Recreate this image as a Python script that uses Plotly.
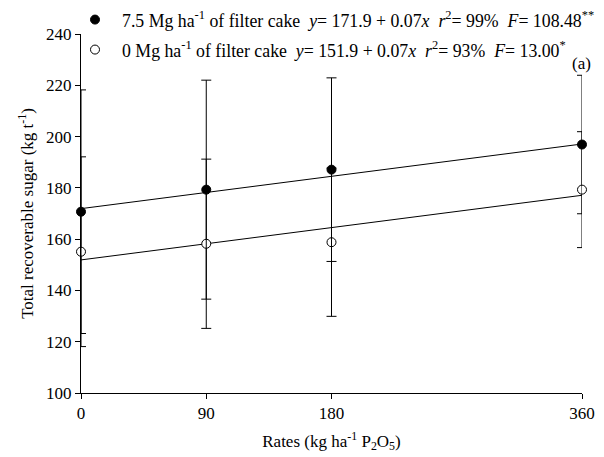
import plotly.graph_objects as go

# Data
rates = [0, 90, 180, 360]
trs_75 = [170.7, 179.3, 187.1, 196.9]
err_75 = [47.5, 42.7, 35.8, 27.0]
trs_0 = [155.1, 158.2, 158.8, 179.3]
err_0 = [37.0, 33.0, 28.9, 22.6]

# Regression coefficients (intercept, slope)
fit_75 = (171.9, 0.07)
fit_0 = (151.9, 0.07)
fit_x = [0, 360]

x_ticks = [0, 90, 180, 360]
y_ticks = [100, 120, 140, 160, 180, 200, 220, 240]

FONT = "Liberation Serif"
FS = 17
LFS = 17.8

fig = go.Figure()

for (a, b) in (fit_75, fit_0):
    fig.add_trace(go.Scatter(
        x=fit_x, y=[a + b * v for v in fit_x], mode="lines",
        line=dict(color="black", width=1), showlegend=False, hoverinfo="skip",
        cliponaxis=False))

fig.add_trace(go.Scatter(
    x=rates, y=trs_0, mode="markers",
    name="0 Mg ha<sup>-1</sup> of filter cake  <i>y</i>= 151.9 + 0.07<i>x</i>  <i>r</i><sup>2</sup>= 93%  <i>F</i>= 13.00<sup>*</sup>",
    marker=dict(symbol="circle", size=9, color="white", line=dict(color="black", width=1)),
    error_y=dict(type="data", array=err_0, visible=True, color="black", thickness=1, width=5),
    cliponaxis=False, legend="legend2"))

fig.add_trace(go.Scatter(
    x=rates, y=trs_75, mode="markers",
    name="7.5 Mg ha<sup>-1</sup> of filter cake  <i>y</i>= 171.9 + 0.07<i>x</i>  <i>r</i><sup>2</sup>= 99%  <i>F</i>= 108.48<sup>**</sup>",
    marker=dict(symbol="circle", size=9, color="black", line=dict(color="black", width=1)),
    error_y=dict(type="data", array=err_75, visible=True, color="black", thickness=1, width=5),
    cliponaxis=False, legend="legend"))

L, R, T, B = 81, 22, 34, 64
W, H = 604, 457
pw = W - L - R
ph = H - T - B

def px_x(p):
    return (p - L) / pw

def px_y(p):
    return (H - B - p) / ph

leg_common = dict(font=dict(family=FONT, size=LFS, color="black"), bgcolor="rgba(0,0,0,0)",
                  borderwidth=0, itemwidth=44, xanchor="left", yanchor="middle")

fig.update_layout(
    width=W, height=H,
    margin=dict(l=L, r=R, t=T, b=B, autoexpand=False),
    paper_bgcolor="white", plot_bgcolor="white",
    font=dict(family=FONT, size=FS, color="black"),
    legend=dict(x=px_x(68), y=px_y(20), **leg_common),
    legend2=dict(x=px_x(68), y=px_y(50), **leg_common),
    xaxis=dict(range=[0, 360], tickvals=x_ticks, ticktext=[str(v) for v in x_ticks],
               showline=True, linecolor="black", linewidth=1, ticks="outside",
               ticklen=5, tickcolor="black", showgrid=False, zeroline=False,
               title=dict(text="Rates (kg ha<sup>-1</sup> P<sub>2</sub>O<sub>5</sub>)",
                          font=dict(family=FONT, size=FS), standoff=12)),
    yaxis=dict(range=[100, 240], tickvals=y_ticks,
               showline=True, linecolor="black", linewidth=1, ticks="outside",
               ticklen=5, tickcolor="black", showgrid=False, zeroline=False,
               title=dict(text="Total recoverable sugar (kg t<sup>-1</sup>)",
                          font=dict(family=FONT, size=FS), standoff=8)),
    annotations=[dict(text="(a)", xref="paper", yref="paper", x=px_x(581), y=px_y(64),
                      showarrow=False, font=dict(family=FONT, size=FS),
                      xanchor="center", yanchor="middle")],
)

fig.write_html("out.html", config={"displayModeBar": False},
               post_script="document.body.style.margin='0px';document.body.style.padding='0px';")
